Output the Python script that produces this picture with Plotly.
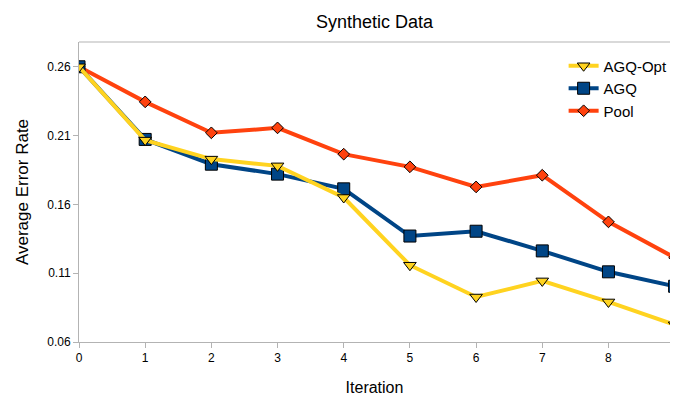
import plotly.graph_objects as go

iterations = [0, 1, 2, 3, 4, 5, 6, 7, 8, 9]
agq_opt = [0.260, 0.2067, 0.1929, 0.188, 0.165, 0.1158, 0.0927, 0.1044, 0.0891, 0.0725]
agq = [0.260, 0.2072, 0.1892, 0.182, 0.1713, 0.137, 0.1405, 0.1262, 0.111, 0.1005]
pool = [0.260, 0.2345, 0.212, 0.2156, 0.1965, 0.1873, 0.1727, 0.1812, 0.1473, 0.1213]
y_ticks = [0.06, 0.11, 0.16, 0.21, 0.26]
x_ticks = [0, 1, 2, 3, 4, 5, 6, 7, 8]

FONT = "Liberation Sans, Arial, sans-serif"
outline = dict(color="#000000", width=1)

fig = go.Figure()
fig.add_trace(go.Scatter(x=iterations, y=pool, name="Pool", mode="lines+markers",
                         line=dict(color="#FF420E", width=4),
                         marker=dict(symbol="diamond", size=9, color="#FF420E", line=outline)))
fig.add_trace(go.Scatter(x=iterations, y=agq, name="AGQ", mode="lines+markers",
                         line=dict(color="#004586", width=4),
                         marker=dict(symbol="square", size=12, color="#004586", line=outline)))
fig.add_trace(go.Scatter(x=iterations, y=agq_opt, name="AGQ-Opt", mode="lines+markers",
                         line=dict(color="#FFD320", width=4),
                         marker=dict(symbol="triangle-down", size=11, color="#FFD320", line=outline)))

fig.update_layout(
    width=673, height=396,
    margin=dict(l=79, r=0, t=42, b=54),
    paper_bgcolor="white", plot_bgcolor="white",
    font=dict(family=FONT, color="#000000"),
    title=dict(text="Synthetic Data", x=0.5, xref="paper", xanchor="center",
               y=1 - 22 / 396, yanchor="middle", font=dict(size=18, family=FONT)),
    showlegend=True,
    legend=dict(traceorder="reversed", x=0.82, y=0.975, xanchor="left", yanchor="top",
                bgcolor="rgba(0,0,0,0)", font=dict(size=15, family=FONT),
                itemwidth=30, tracegroupgap=0),
    xaxis=dict(range=[0, 8.93], tickvals=x_ticks, ticks="outside", ticklen=5,
               tickcolor="#b3b3b3", showline=True, linecolor="#b3b3b3", linewidth=1,
               mirror=False, showgrid=False, zeroline=False,
               tickfont=dict(size=12, family=FONT),
               title=dict(text="Iteration", font=dict(size=16, family=FONT), standoff=18)),
    yaxis=dict(range=[0.06, 0.278], tickvals=y_ticks, ticktext=[f"{v:.2f}" for v in y_ticks],
               ticks="outside", ticklen=5, tickcolor="#b3b3b3", showline=True,
               linecolor="#b3b3b3", linewidth=1, showgrid=False, zeroline=False,
               tickfont=dict(size=12, family=FONT),
               title=dict(text="Average Error Rate", font=dict(size=17, family=FONT), standoff=14)),
    shapes=[dict(type="line", xref="paper", yref="paper", x0=0, x1=1, y0=1, y1=1,
                 line=dict(color="#b3b3b3", width=1))],
)

fig.write_html("out.html")
